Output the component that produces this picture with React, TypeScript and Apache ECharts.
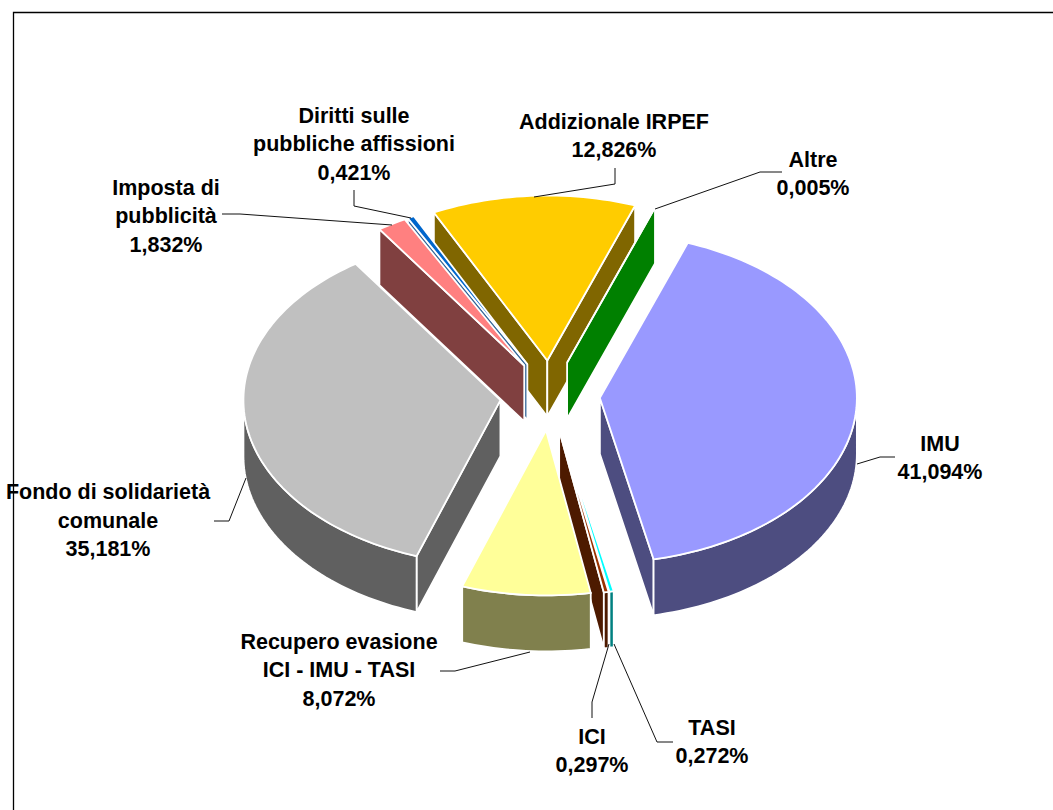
import React, { useEffect, useRef } from "react";
import * as echarts from "echarts";

const categories = [
  "IMU",
  "TASI",
  "ICI",
  "Recupero evasione\nICI - IMU - TASI",
  "Fondo di solidarietà\ncomunale",
  "Imposta di\npubblicità",
  "Diritti sulle\npubbliche affissioni",
  "Addizionale IRPEF",
  "Altre",
];
const shares = [41.094, 0.272, 0.297, 8.072, 35.181, 1.832, 0.421, 12.826, 0.005];
const shareLabels = ["41,094%", "0,272%", "0,297%", "8,072%", "35,181%", "1,832%", "0,421%", "12,826%", "0,005%"];
const topColors = ["#9999FF", "#00FFFF", "#993300", "#FFFF99", "#C0C0C0", "#FF8080", "#0066CC", "#FFCC00", "#008000"];
const sideColors = ["#4D4D80", "#008080", "#4D1A00", "#80804D", "#606060", "#804040", "#336699", "#806600", "#008000"];
// back-to-front painting rank of each slice
const paintRank = [5, 6, 7, 8, 4, 3, 2, 0, 1];

const labelAt: [number, number][] = [
  [940, 458], [712, 742], [592, 751], [339, 670], [108, 520.5], [166, 216], [354, 144], [614, 136], [813, 174],
];
const leaders: [number, number][][] = [
  [[857, 464], [880, 457], [895, 457]],
  [[614, 644], [657, 742], [673, 742]],
  [[609, 644], [592, 702], [592, 718]],
  [[530, 652], [455, 671], [440, 671]],
  [[246, 478], [229, 521], [214, 521]],
  [[392, 225], [240, 214], [222, 214]],
  [[411, 218], [354, 206], [354, 190]],
  [[534, 197], [615, 184], [615, 168]],
  [[655, 209], [760, 172], [782, 172]],
];

const CX = 550, CY = 395.5, RX = 257, RY = 165, EX = 50, EY = 35, DEPTH = 56, START = -70;
const rad = (d: number) => (d * Math.PI) / 180;
const total = shares.reduce((s, v) => s + v, 0);

function renderSlice(params: any, api: any) {
  const i = params.dataIndex;
  const before = shares.slice(0, i).reduce((s, v) => s + v, 0);
  const t1 = START + (before / total) * 360;
  const t2 = t1 + (api.value(0) / total) * 360;
  const mid = rad((t1 + t2) / 2);
  const ax = CX + EX * Math.cos(mid);
  const ay = CY + EY * Math.sin(mid);
  const rim = (deg: number, dy = 0): [number, number] => [ax + RX * Math.cos(rad(deg)), ay + RY * Math.sin(rad(deg)) + dy];
  const arc = (from: number, to: number, dy = 0) => {
    const n = Math.max(2, Math.ceil(Math.abs(to - from) / 1.5));
    return Array.from({ length: n + 1 }, (_, k) => rim(from + ((to - from) * k) / n, dy));
  };
  const base = paintRank[i] * 10;
  const wallStyle = { fill: sideColors[i], stroke: "#ffffff", lineWidth: 1.8, lineJoin: "miter" };
  const children: any[] = [];
  const wall = (deg: number, z: number) =>
    children.push({
      type: "polygon",
      z2: base + z,
      shape: { points: [[ax, ay], rim(deg), rim(deg, DEPTH), [ax, ay + DEPTH]] },
      style: wallStyle,
    });
  if (Math.cos(rad(t1)) < 0) wall(t1, 1);
  if (Math.cos(rad(t2)) > 0) wall(t2, 1);
  // Outer wall: only the part of the rim that faces the viewer (0..180 degrees, mod 360)
  for (const k of [0, 360]) {
    const from = Math.max(t1, k);
    const to = Math.min(t2, k + 180);
    if (to > from) {
      children.push({
        type: "polygon",
        z2: base + 2,
        shape: { points: [...arc(from, to), ...arc(to, from, DEPTH)] },
        style: wallStyle,
      });
    }
  }
  children.push({
    type: "polygon",
    z2: base + 3,
    shape: { points: [[ax, ay], ...arc(t1, t2)] },
    style: { fill: topColors[i], stroke: "#ffffff", lineWidth: 1.8, lineJoin: "miter" },
  });
  return { type: "group", children };
}

export default function App() {
  const ref = useRef<HTMLDivElement>(null);
  useEffect(() => {
    const chart = echarts.init(ref.current!, undefined, { renderer: "svg" });
    chart.setOption({
      animation: false,
      backgroundColor: "#ffffff",
      series: [
        {
          type: "custom",
          coordinateSystem: "none",
          data: shares.map((v, i) => ({ name: categories[i], value: [v] })),
          renderItem: renderSlice,
          silent: true,
        },
      ],
      graphic: [
        {
          type: "polyline",
          z: 0,
          shape: { points: [[13.5, 810], [13.5, 12.5], [1053, 12.5]] },
          style: { fill: "none", stroke: "#000000", lineWidth: 1.3 },
        },
        ...leaders.map((pts) => ({
          type: "polyline",
          z: 10,
          shape: { points: pts },
          style: { fill: "none", stroke: "#111111", lineWidth: 1 },
        })),
        ...categories.map((c, i) => ({
          type: "text",
          z: 11,
          x: labelAt[i][0],
          y: labelAt[i][1],
          style: {
            text: `${c}\n${shareLabels[i]}`,
            font: 'bold 21.5px "Liberation Sans", Arial, sans-serif',
            lineHeight: 28.5,
            fill: "#000000",
            align: "center",
            verticalAlign: "middle",
          },
        })),
      ],
    });
    return () => chart.dispose();
  }, []);
  return <div ref={ref} style={{ position: "absolute", left: 0, top: 0, width: 1053, height: 810 }} />;
}
